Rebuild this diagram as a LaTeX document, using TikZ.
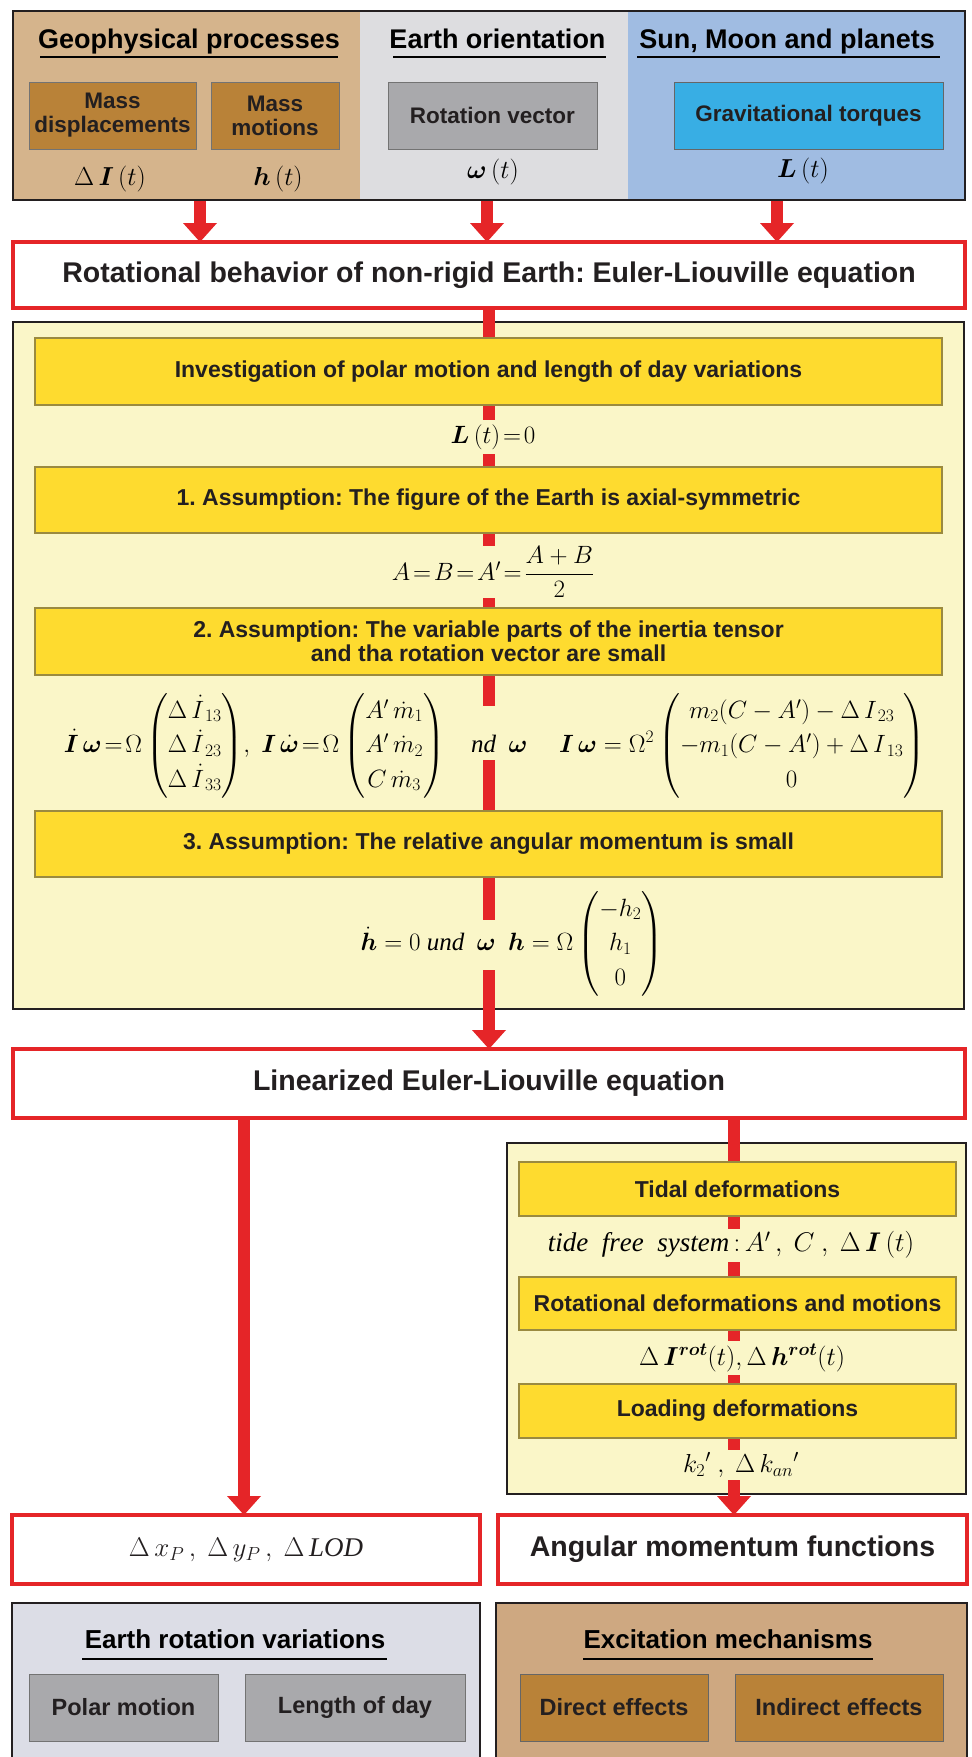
\RequirePackage{fix-cm}
\documentclass[tikz,border=0pt]{standalone}
\usepackage{amsmath}
\usepackage{bm}
\usepackage{fontspec}
\setmainfont{Liberation Serif}
\newfontfamily\hsans{Liberation Sans}
\definecolor{redc}{HTML}{E52528}
\definecolor{brownpanel}{HTML}{D5B48C}
\definecolor{brownbox}{HTML}{B98238}
\definecolor{greypanel}{HTML}{DDDDE0}
\definecolor{greybox}{HTML}{A9A9AC}
\definecolor{bluepanel}{HTML}{A0BCE2}
\definecolor{bluebox}{HTML}{38AEE4}
\definecolor{ypanel}{HTML}{FAF6C8}
\definecolor{ybox}{HTML}{FEDB2F}
\definecolor{yborder}{HTML}{9A8A40}
\definecolor{lavpanel}{HTML}{DCDDE6}
\definecolor{tanpanel}{HTML}{CEA881}
\definecolor{ink}{HTML}{231F20}
\newcommand{\teq}{\mkern2mu{=}\mkern2mu}
\begin{document}
\frenchspacing
\begin{tikzpicture}[x=1pt,y=-1pt,
  fillrect/.style={rectangle, inner sep=0pt, outer sep=0pt},
  panelline/.style={draw=ink, line width=2.5pt},
  ttl/.style={inner sep=0pt, anchor=base, text=black, font=\hsans\bfseries\fontsize{27}{30}\selectfont},
  uline/.style={draw=black, line width=2.2pt},
  tbox/.style={rectangle, draw=black!55, line width=0.8pt, inner sep=0pt, outer sep=0pt, align=center, text=ink, font=\hsans\bfseries\fontsize{22.5}{24}\selectfont},
  rbox/.style={rectangle, draw=redc, line width=3.5pt, fill=white, inner sep=0pt, outer sep=0pt, align=center, text=ink, font=\hsans\bfseries\fontsize{28.5}{32}\selectfont},
  ybx/.style={rectangle, fill=ybox, draw=yborder, line width=1.2pt, inner sep=0pt, outer sep=0pt, align=center, text=ink, font=\hsans\bfseries\fontsize{23}{23.5}\selectfont},
  mlbl/.style={inner sep=0pt, font=\fontsize{26}{30}\selectfont},
  fml/.style={fill=ypanel, inner xsep=3pt, inner ysep=5pt, font=\fontsize{25}{30}\selectfont},
  redline/.style={draw=redc, line width=12pt},
  rhead/.pic={\fill[redc] (-17,-19) -- (17,-19) -- (0,0) -- cycle;},
  btbox/.style={rectangle, line width=1pt, inner sep=0pt, outer sep=0pt, align=center, text=ink, font=\hsans\bfseries\fontsize{23.5}{26}\selectfont, minimum height=67pt}
]
\useasboundingbox (0,0) rectangle (972,1757);
\fill[white] (0,0) rectangle (972,1757);

% ---------- top panel ----------
\node[fillrect, fill=brownpanel, minimum width=347pt, minimum height=189pt] (geo) at (186.5,105.5) {};
\node[fillrect, fill=greypanel, minimum width=268pt, minimum height=189pt] (eo) at (494,105.5) {};
\node[fillrect, fill=bluepanel, minimum width=337pt, minimum height=189pt] (smp) at (796.5,105.5) {};
\draw[panelline] (13,11) rectangle (965,200);

\node[ttl] (tgeo) at (189,48) {Geophysical processes};
\node[ttl] (teo) at (497.5,48) {Earth orientation};
\node[ttl] (tsmp) at (787,48) {Sun, Moon and planets};
\draw[uline] (40,57) -- (338,57);
\draw[uline] (393,57) -- (606,57);
\draw[uline] (637,57) -- (940,57);

\node[tbox, fill=brownbox, minimum width=167pt, minimum height=67pt] (md) at (112.5,115.5) {Mass\\displacements};
\node[tbox, fill=brownbox, minimum width=128pt, minimum height=67pt] (mm) at (275,115.5) {Mass\\motions};
\node[tbox, fill=greybox, minimum width=209pt, minimum height=67pt] (rv) at (492.5,115.5) {Rotation vector};
\node[tbox, fill=bluebox, draw=black!60, minimum width=269pt, minimum height=67pt] (gt) at (808.5,115.5) {Gravitational torques};

\node[mlbl] (ldi) at (110,179) {$\Delta\,\bm{I}\,(t)$};
\node[mlbl] (lh) at (278,179) {$\bm{h}\,(t)$};
\node[mlbl] (lw) at (493,172) {$\bm{\omega}\,(t)$};
\node[mlbl] (lL) at (803,171) {$\bm{L}\,(t)$};

% ---------- Euler box ----------
\node[rbox, minimum width=952pt, minimum height=66pt] (euler) at (489,275) {Rotational behavior of non-rigid Earth: Euler-Liouville equation};

\coordinate (s1) at (200,201);
\coordinate (s2) at (487,201);
\coordinate (s3) at (777,201);
\draw[redline, shorten >=18pt] (s1) -- (s1 |- euler.north) coordinate (e1);
\draw[redline, shorten >=18pt] (s2) -- (s2 |- euler.north) coordinate (e2);
\draw[redline, shorten >=18pt] (s3) -- (s3 |- euler.north) coordinate (e3);
\pic at (e1) {rhead};
\pic at (e2) {rhead};
\pic at (e3) {rhead};

% ---------- big yellow panel ----------
\node[fillrect, fill=ypanel, draw=ink, line width=2.5pt, minimum width=951pt, minimum height=687pt] (ypan) at (488.5,665.5) {};
\node[rbox, minimum width=952pt, minimum height=69pt] (lin) at (489,1083.5) {Linearized Euler-Liouville equation};
\draw[redline, shorten >=18pt] (euler.south) -- (lin.north) coordinate (e4);
\pic at (e4) {rhead};

\node[ybx, minimum width=907pt, minimum height=67pt] (inv) at (488.5,371.5) {Investigation of polar motion and length of day variations};
\node[fml] (f0) at (493,437) {$\bm{L}\,(t)\!=\!0$};
\node[ybx, minimum width=907pt, minimum height=66pt] (as1) at (488.5,500) {1. Assumption: The figure of the Earth is axial-symmetric};
\node[fml, inner ysep=0pt] (f1) at (493,572) {$A\!=\!B\!=\!A'\!=\!\dfrac{A+B}{2}$};
\node[ybx, minimum width=907pt, minimum height=67pt] (as2) at (488.5,641.5) {2. Assumption: The variable parts of the inertia tensor\\and tha rotation vector are small};

\node[inner sep=0pt, anchor=base east, font=\fontsize{25}{30}\selectfont] (f2l) at (445,752)
  {$\renewcommand{\arraystretch}{1.15}\dot{\bm{I}}\,\bm{\omega}\teq\Omega\begin{pmatrix}\Delta\,\dot{I}_{\,13}\\ \Delta\,\dot{I}_{\,23}\\ \Delta\,\dot{I}_{\,33}\end{pmatrix}\!,\;\bm{I}\,\dot{\bm{\omega}}\teq\Omega\begin{pmatrix}A'\,\dot{m}_1\\ A'\,\dot{m}_2\\ C\,\dot{m}_3\end{pmatrix}$};
\node[fml, anchor=base west, inner ysep=0pt, inner xsep=3pt] (f2m) at (468,752) {\rule[-8pt]{0pt}{54pt}$\mathit{nd}\ \ \bm{\omega}$};
\node[inner sep=0pt, anchor=base west, font=\fontsize{25}{30}\selectfont] (f2r) at (559,752)
  {$\renewcommand{\arraystretch}{1.15}\bm{I}\,\bm{\omega}=\Omega^2\begin{pmatrix}m_2(C-A')-\Delta\,I_{\,23}\\ -m_1(C-A')+\Delta\,I_{\,13}\\ 0\end{pmatrix}$};

\node[ybx, minimum width=907pt, minimum height=66pt] (as3) at (488.5,844) {3. Assumption: The relative angular momentum is small};

\node[fml, anchor=base east, inner ysep=0pt] (f3l) at (499,950) {\rule[-20pt]{0pt}{50pt}$\dot{\bm{h}}=0\ \mathit{und}\ \ \bm{\omega}$\hspace{14pt}};
\node[inner sep=0pt, anchor=base west, font=\fontsize{25}{30}\selectfont] (f3r) at (508,950)
  {$\renewcommand{\arraystretch}{1.15}\bm{h}=\Omega\begin{pmatrix}-h_2\\ h_1\\ 0\end{pmatrix}$};

% ---------- bottom red boxes ----------
\node[rbox, minimum width=468pt, minimum height=69pt, font=\fontsize{27}{30}\selectfont] (dxb) at (246,1549.5) {$\Delta\,x_P\,,\ \Delta\,y_P\,,\ \Delta\,\mathit{LOD}$};
\node[rbox, minimum width=469pt, minimum height=69pt] (amb) at (732.5,1549.5) {Angular momentum functions};

\draw[redline, shorten >=19pt] (lin.south -| 244,0) -- (dxb.north -| 244,0) coordinate (e5);
\pic at (e5) {rhead};

% ---------- right inner panel ----------
\node[fillrect, fill=ypanel, draw=ink, line width=2.5pt, minimum width=459pt, minimum height=351pt] (rpan) at (736.5,1318.5) {};
\draw[redline, shorten >=19pt] (lin.south -| 734,0) -- (amb.north -| 734,0) coordinate (e6);
\pic at (e6) {rhead};

\node[ybx, minimum width=437pt, minimum height=54pt] (tid) at (737.5,1189) {Tidal deformations};
\node[fml, font=\fontsize{27}{30}\selectfont, inner ysep=3pt] (f4) at (731,1245) {$\mathit{tide\ \ free\ \ system}\,{:}\,A'\,,\ C\ ,\ \Delta\,\bm{I}\,(t)$};
\node[ybx, minimum width=437pt, minimum height=53pt] (rot) at (737.5,1303.5) {Rotational deformations and motions};
\node[fml, font=\fontsize{26}{30}\selectfont, inner ysep=3pt] (f5) at (742,1358) {$\Delta\,\bm{I}^{\bm{rot}}(t),\Delta\,\bm{h}^{\bm{rot}}(t)$};
\node[ybx, minimum width=437pt, minimum height=54pt] (load) at (737.5,1411) {Loading deformations};
\node[fml, font=\fontsize{26}{30}\selectfont, inner ysep=3pt] (f6) at (741,1465) {$k_2{}'\ ,\ \Delta\,k_{an}{}'$};

% ---------- bottom panels ----------
\node[fillrect, fill=lavpanel, draw=ink, line width=2.5pt, minimum width=468pt, minimum height=170pt] (erv) at (246,1688) {};
\node[fillrect, fill=tanpanel, draw=ink, line width=2.5pt, minimum width=471pt, minimum height=170pt] (exm) at (731.5,1688) {};
\node[ttl, font=\hsans\bfseries\fontsize{26}{30}\selectfont] (terv) at (235,1648) {Earth rotation variations};
\node[ttl, font=\hsans\bfseries\fontsize{26}{30}\selectfont] (texm) at (728,1648) {Excitation mechanisms};
\draw[uline] (82,1659) -- (387,1659);
\draw[uline] (583,1659) -- (873,1659);

\node[btbox, fill=greybox, draw=black!55, minimum width=189pt] (pm) at (123.5,1707.5) {Polar motion};
\node[btbox, fill=greybox, draw=black!55, minimum width=220pt] (lod) at (355,1707.5) {Length of day};
\node[btbox, fill=brownbox, draw=black!60, minimum width=188pt] (de) at (614,1707.5) {Direct effects};
\node[btbox, fill=brownbox, draw=black!60, minimum width=208pt] (ie) at (839,1707.5) {Indirect effects};
\end{tikzpicture}
\end{document}
